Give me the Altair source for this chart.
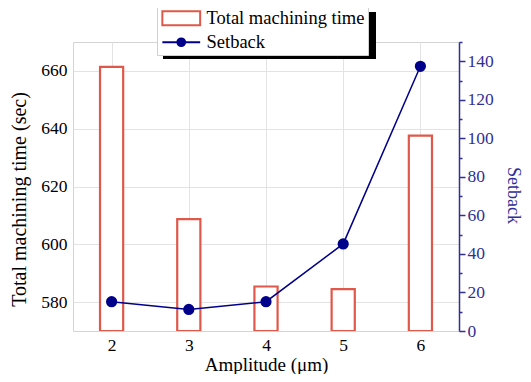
import altair as alt
import pandas as pd

amplitude = [2, 3, 4, 5, 6]
machining_time = [661.4, 608.7, 585.4, 584.5, 637.6]
setback = [15.2, 11.2, 15.2, 45.2, 137.4]
series_names = ["Total machining time", "Setback"]

RED = "#e0584a"
NAVY = "#00008b"
AXNAVY = "#2f2f96"
GRID = "#e3e3e3"
FONT = "Liberation Serif, Times New Roman, serif"

df_time = pd.DataFrame({"amp": amplitude, "time": machining_time,
                        "series": series_names[0]})
df_time["x0"] = df_time["amp"] - 0.15
df_time["x1"] = df_time["amp"] + 0.15
df_set = pd.DataFrame({"amp": amplitude, "setback": setback,
                       "series": series_names[1]})

rect_path = "M-2.7,-1H2.7V1H-2.7Z"
line_dot_path = ("M-2.7,0H2.7M0.55,0A0.55,0.55,0,1,1,-0.55,0"
                 "A0.55,0.55,0,1,1,0.55,0Z")

stroke_scale = alt.Scale(domain=series_names, range=[RED, NAVY])
fill_scale = alt.Scale(domain=series_names, range=["white", NAVY])
shape_scale = alt.Scale(domain=series_names, range=[rect_path, line_dot_path])

xscale = alt.Scale(domain=[1.5, 6.5], nice=False, zero=False)
xaxis = alt.Axis(values=amplitude, format="d", title="Amplitude (μm)", ticks=False,
                 domain=False, grid=True, gridColor=GRID, labelFont=FONT,
                 labelFontSize=17.5, labelColor="black", labelPadding=5,
                 titleFont=FONT, titleFontSize=19, titleFontWeight="normal",
                 titleColor="black", titleY=39, titleBaseline="alphabetic")

legend = alt.Legend(title=None, orient="none", legendX=84, legendY=-36,
                    fillColor="white", strokeColor="#d0d0d0", padding=3,
                    labelFont=FONT, labelFontSize=18.5, labelColor="black",
                    labelLimit=400,
                    symbolSize=196, symbolStrokeWidth=2, symbolOffset=12,
                    labelOffset=16, rowPadding=3, symbolOpacity=1)

bars = alt.Chart(df_time).mark_bar(strokeWidth=2.2, clip=True).encode(
    x=alt.X("x0:Q", scale=xscale, axis=xaxis),
    x2="x1:Q",
    y=alt.Y("time:Q", scale=alt.Scale(domain=[570, 670], nice=False, zero=False),
            axis=alt.Axis(values=[580, 600, 620, 640, 660],
                          title="Total machining time (sec)", orient="left",
                          ticks=False, domain=False, grid=True, gridColor=GRID,
                          labelFont=FONT, labelFontSize=17.5, labelColor="black",
                          labelPadding=6, titleFont=FONT, titleFontSize=20,
                          titleFontWeight="normal", titleColor="black",
                          titleX=-54, titleY=157, titleAngle=270,
                          titleAlign="center", titleBaseline="middle")),
    y2=alt.datum(570),
    stroke=alt.Stroke("series:N", scale=stroke_scale, legend=legend),
    fill=alt.Fill("series:N", scale=fill_scale, legend=legend),
)

right_axis = alt.Axis(values=list(range(0, 151, 10)), orient="right",
                      title="Setback", grid=False, domain=True,
                      domainColor=AXNAVY, domainWidth=1.5,
                      tickColor=AXNAVY, tickWidth=1.5,
                      tickSize={"condition": {"test": "datum.value % 20 === 0", "value": 6}, "value": 3},
                      labelExpr="datum.value % 20 === 0 ? datum.label : ''",
                      labelFont=FONT, labelFontSize=17.5, labelColor=AXNAVY,
                      labelPadding=2, titleFont=FONT, titleFontSize=18,
                      titleFontWeight="normal", titleColor=AXNAVY,
                      titleX=53, titleY=153, titleAngle=90,
                      titleAlign="center", titleBaseline="middle")
yset = alt.Scale(domain=[0, 150], nice=False)

line = alt.Chart(df_set).mark_line(strokeWidth=1.5).encode(
    x=alt.X("amp:Q", scale=xscale),
    y=alt.Y("setback:Q", scale=yset, axis=right_axis),
    stroke=alt.Stroke("series:N", scale=stroke_scale, legend=legend),
)
points = alt.Chart(df_set).mark_point(filled=True, size=85, opacity=1,
                                      shape="circle").encode(
    x=alt.X("amp:Q", scale=xscale),
    y=alt.Y("setback:Q", scale=yset, axis=right_axis),
    stroke=alt.Stroke("series:N", scale=stroke_scale, legend=legend),
    fill=alt.Fill("series:N", scale=fill_scale, legend=legend),
)
# invisible layer that only carries the legend symbol shapes
legend_carrier = alt.Chart(df_set).mark_point(opacity=0).encode(
    x=alt.X("amp:Q", scale=xscale),
    y=alt.Y("setback:Q", scale=yset, axis=right_axis),
    shape=alt.Shape("series:N", scale=shape_scale, legend=legend),
)

shadow = alt.Chart(pd.DataFrame({"k": [0]})).mark_rect(
    x=90, x2=303, y=-30, y2=17, color="black", clip=False
).encode(opacity=alt.value(1))

right = alt.layer(line, points, legend_carrier)

chart = alt.layer(bars, right, shadow).resolve_scale(
    y="independent"
).properties(
    width=386, height=289,
    autosize=alt.AutoSizeParams(type="none"),
    padding={"left": 65, "top": 34, "right": 64, "bottom": 43},
    background="white",
).configure(font=FONT).configure_view(stroke="#d4d4d4", strokeWidth=1)

chart.save("out.html", embed_options={"renderer": "svg", "actions": False})
